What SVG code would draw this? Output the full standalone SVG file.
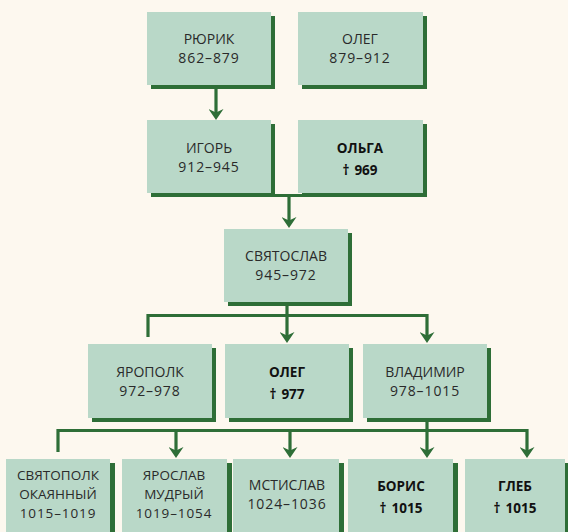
<svg xmlns="http://www.w3.org/2000/svg" width="568" height="532" viewBox="0 0 568 532">
<style>
  .bg{fill:#fdf8ef}
  .box{fill:#b9d8c8}
  .sh{fill:#2e6e37}
  .t{font-family:"Open Sans","Noto Sans","DejaVu Sans",sans-serif;font-size:14px;fill:#2a2a2a;text-anchor:middle}
  .s{font-size:13.5px}
  .n{letter-spacing:0.9px}
  .b{font-weight:bold;fill:#111;font-size:13.5px}
  .c{fill:none;stroke:#2e6e37;stroke-width:3.2}
</style>
<defs>
  <marker id="ah" markerUnits="userSpaceOnUse" viewBox="0 0 11 15" refX="5" refY="7.5" markerWidth="11" markerHeight="15" orient="auto">
    <path d="M0,0 L11,7.5 L0,15 L3.5,7.5 Z" fill="#2e6e37"/>
  </marker>
</defs>
<rect class="bg" x="0" y="0" width="568" height="532"/>

<g id="connectors">
  <path class="c" d="M216,87 V114" marker-end="url(#ah)"/>
  <path class="c" d="M270,195.5 H303"/>
  <path class="c" d="M289,195.5 V222" marker-end="url(#ah)"/>
  <path class="c" d="M287,303 V315.5"/>
  <path class="c" d="M148,337 V315.5 H427 V337" marker-end="url(#ah)"/>
  <path class="c" d="M287,315.5 V337" marker-end="url(#ah)"/>
  <path class="c" d="M427,420 V430.5"/>
  <path class="c" d="M58,452 V430.5 H527 V452" marker-end="url(#ah)"/>
  <path class="c" d="M176,430.5 V452" marker-end="url(#ah)"/>
  <path class="c" d="M290,430.5 V452" marker-end="url(#ah)"/>
  <path class="c" d="M427,430.5 V452" marker-end="url(#ah)"/>
</g>

<g id="rurik">
  <rect class="sh" x="151" y="16" width="124" height="73"/>
  <rect class="box" x="147" y="12" width="124" height="73"/>
  <text class="t" x="209" y="44">РЮРИК</text>
  <text class="t n" x="209" y="63">862–879</text>
</g>
<g id="oleg1">
  <rect class="sh" x="302" y="16" width="125" height="73"/>
  <rect class="box" x="298" y="12" width="125" height="73"/>
  <text class="t" x="360" y="44">ОЛЕГ</text>
  <text class="t n" x="360" y="63">879–912</text>
</g>
<g id="igor">
  <rect class="sh" x="151" y="124" width="124" height="73"/>
  <rect class="box" x="147" y="120" width="124" height="73"/>
  <text class="t" x="209" y="153">ИГОРЬ</text>
  <text class="t n" x="209" y="172">912–945</text>
</g>
<g id="olga">
  <rect class="sh" x="302" y="124" width="125" height="73"/>
  <rect class="box" x="298" y="120" width="125" height="73"/>
  <text class="t b" x="360" y="153">ОЛЬГА</text>
  <text class="t b" x="360" y="175">†<tspan dx="5">969</tspan></text>
</g>
<g id="svyatoslav">
  <rect class="sh" x="228" y="233" width="124" height="73"/>
  <rect class="box" x="224" y="229" width="124" height="73"/>
  <text class="t" x="286" y="261">СВЯТОСЛАВ</text>
  <text class="t n" x="286" y="280">945–972</text>
</g>
<g id="yaropolk">
  <rect class="sh" x="92" y="348" width="124" height="74"/>
  <rect class="box" x="88" y="344" width="124" height="74"/>
  <text class="t" x="150" y="377">ЯРОПОЛК</text>
  <text class="t n" x="150" y="396">972–978</text>
</g>
<g id="oleg2">
  <rect class="sh" x="229" y="348" width="124" height="74"/>
  <rect class="box" x="225" y="344" width="124" height="74"/>
  <text class="t b" x="287" y="377">ОЛЕГ</text>
  <text class="t b" x="287" y="399">†<tspan dx="5">977</tspan></text>
</g>
<g id="vladimir">
  <rect class="sh" x="367" y="348" width="124" height="74"/>
  <rect class="box" x="363" y="344" width="124" height="74"/>
  <text class="t" x="425" y="377">ВЛАДИМИР</text>
  <text class="t n" x="425" y="396">978–1015</text>
</g>
<g id="svyatopolk">
  <rect class="sh" x="110" y="463" width="5" height="80"/>
  <rect class="box" x="6" y="459" width="104" height="80"/>
  <text class="t s" x="58" y="480">СВЯТОПОЛК</text>
  <text class="t s" x="58" y="499">ОКАЯННЫЙ</text>
  <text class="t s n" x="58" y="518">1015–1019</text>
</g>
<g id="yaroslav">
  <rect class="sh" x="227" y="463" width="5" height="80"/>
  <rect class="box" x="122" y="459" width="105" height="80"/>
  <text class="t s" x="174" y="480">ЯРОСЛАВ</text>
  <text class="t s" x="174" y="499">МУДРЫЙ</text>
  <text class="t s n" x="174" y="518">1019–1054</text>
</g>
<g id="mstislav">
  <rect class="sh" x="339" y="463" width="5" height="80"/>
  <rect class="box" x="233" y="459" width="106" height="80"/>
  <text class="t" x="287" y="490">МСТИСЛАВ</text>
  <text class="t n" x="287" y="509">1024–1036</text>
</g>
<g id="boris">
  <rect class="sh" x="453" y="463" width="5" height="80"/>
  <rect class="box" x="348" y="459" width="105" height="80"/>
  <text class="t b" x="401" y="491">БОРИС</text>
  <text class="t b" x="401" y="513">†<tspan dx="5">1015</tspan></text>
</g>
<g id="gleb">
  <rect class="sh" x="565" y="463" width="5" height="80"/>
  <rect class="box" x="465" y="459" width="100" height="80"/>
  <text class="t b" x="515" y="491">ГЛЕБ</text>
  <text class="t b" x="515" y="513">†<tspan dx="5">1015</tspan></text>
</g>
</svg>
